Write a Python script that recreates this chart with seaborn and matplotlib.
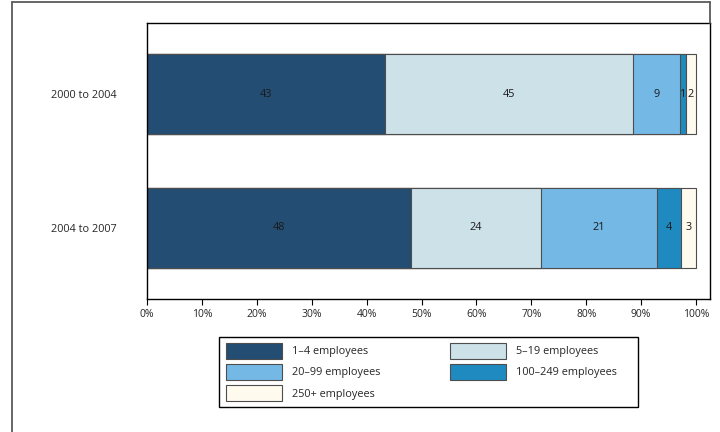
import numpy as np
import pandas as pd
import matplotlib
matplotlib.use("Agg")
import matplotlib.pyplot as plt
import seaborn as sns
from matplotlib.lines import Line2D
from matplotlib.patches import Patch, Rectangle

# data (percent of new firms by size class)
periods = ["2000 to 2004", "2004 to 2007"]
sizes = ["1–4 employees", "5–19 employees", "20–99 employees", "100–249 employees", "250+ employees"]
share_0004 = [43.4, 45.1, 8.6, 1.1, 1.8]
share_0407 = [48.1, 23.7, 21.1, 4.4, 2.7]
labels_0004 = ["43", "45", "9", "1", "2"]
labels_0407 = ["48", "24", "21", "4", "3"]
colors = ["#234d73", "#cde1e9", "#74b9e6", "#1f8ac0", "#fffaee"]
xticks = [0, 10, 20, 30, 40, 50, 60, 70, 80, 90, 100]

sns.set_theme(style="white")
plt.rcParams["font.family"] = ["Open Sans", "DejaVu Sans"]
FS = 7.8
EDGE = "#4d4d4d"

df = pd.DataFrame({"period": np.repeat(periods, len(sizes)),
                   "size": sizes * len(periods),
                   "share": share_0004 + share_0407,
                   "label": labels_0004 + labels_0407})
df["cum"] = df.groupby("period")["share"].cumsum()
df["mid"] = df["cum"] - df["share"] / 2

W, H = 720, 432
fig = plt.figure(figsize=(W / 100, H / 100), dpi=100)
ax = fig.add_axes([147 / W, 1 - 299 / H, (710 - 147) / W, (299 - 23) / H])

# stacked bars: draw cumulative totals from the longest down to the shortest
for size, color in reversed(list(zip(sizes, colors))):
    sub = df[df["size"] == size]
    sns.barplot(data=sub, x="cum", y="period", order=periods, color=color, saturation=1,
                width=0.6, edgecolor=EDGE, linewidth=0.8, ax=ax)

for _, r in df.iterrows():
    ax.text(r["mid"], periods.index(r["period"]), r["label"], ha="center", va="center",
            fontsize=FS, color="#1a1a1a")

ax.set_xlim(0, 102.55)
ax.set_ylim(1.531, -0.533)
ax.set_xticks(xticks)
ax.set_xticklabels([f"{t}%" for t in xticks], fontsize=7.5)
ax.set_yticklabels(periods, fontsize=FS)
ax.set_xlabel(""); ax.set_ylabel("")
ax.tick_params(axis="x", bottom=True, length=4.5, width=0.8, direction="out", color="black", pad=3)
ax.tick_params(axis="y", left=False, length=0, pad=22)
for s in ax.spines.values():
    s.set_visible(True); s.set_color("black"); s.set_linewidth(1.0)

# legend, filled column-wise so rows read 1-4 | 5-19, 20-99 | 100-249, 250+
handles = [Patch(facecolor=c, edgecolor=EDGE, linewidth=0.8) for c in colors]
order = [0, 2, 4, 1, 3]
leg = fig.legend([handles[i] for i in order], [sizes[i] for i in order], ncol=2,
                 loc="upper left", bbox_to_anchor=(226 / W, 1 - 343 / H), frameon=False,
                 fontsize=FS, handlelength=5.17, handleheight=1.9, borderpad=0, borderaxespad=0,
                 columnspacing=6.4, labelspacing=0.46, handletextpad=0.92)
fig.add_artist(Rectangle((219 / W, 1 - 407 / H), 419 / W, 70 / H, transform=fig.transFigure,
                         facecolor="none", edgecolor="black", lw=1.0))

# outer frame of the exhibit
fc = "#5a5a5a"
fig.add_artist(Line2D([12 / W, 12 / W], [0, 1 - 1.5 / H], color=fc, lw=1.3, transform=fig.transFigure))
fig.add_artist(Line2D([12 / W, 710 / W], [1 - 1.5 / H, 1 - 1.5 / H], color=fc, lw=1.3, transform=fig.transFigure))
fig.add_artist(Line2D([710 / W, 710 / W], [1 - 1.5 / H, 1 - 23 / H], color=fc, lw=1.3, transform=fig.transFigure))

fig.savefig("out.png", dpi=100)
